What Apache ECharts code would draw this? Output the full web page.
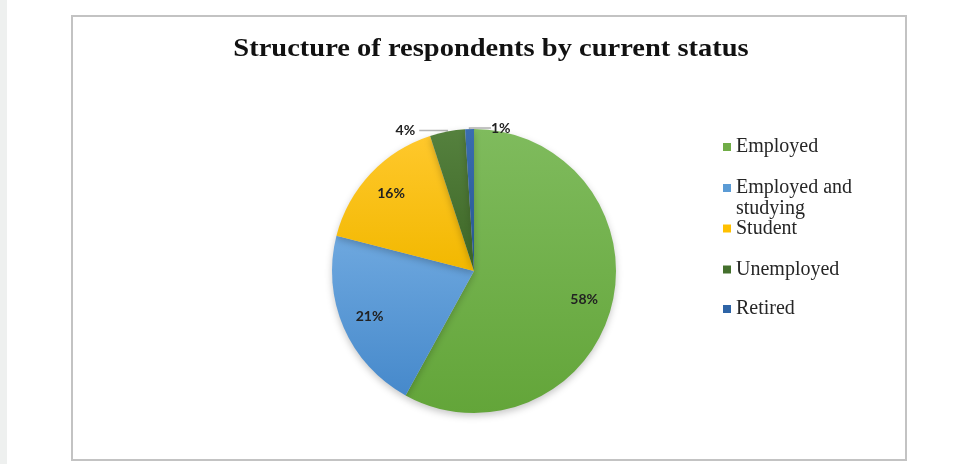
<!DOCTYPE html>
<html>
<head>
<meta charset="utf-8">
<script src="https://cdn.jsdelivr.net/npm/echarts@6/dist/echarts.min.js"></script>
<style>
  html, body { margin: 0; padding: 0; background: #fff; }
  #wrap { position: relative; width: 955px; height: 464px; overflow: hidden; background: #fff; }
  #strip { position: absolute; left: 0; top: 0; width: 7px; height: 464px; background: #eef0ef; }
  #frame { position: absolute; left: 71px; top: 15px; width: 832px; height: 442px; border: 2px solid #c3c3c3; }
  #chart { position: absolute; left: 0; top: 0; width: 955px; height: 464px; }
</style>
</head>
<body>
<div id="wrap">
  <div id="strip"></div>
  <div id="frame"></div>
  <div id="chart"></div>
</div>
<script>
// Survey data: share of respondents by current status (percent)
const titleText = 'Structure of respondents by current status';
const categories = ['Employed', 'Employed and studying', 'Student', 'Unemployed', 'Retired'];
const shares = [58, 21, 16, 4, 1];
const legendLabels = ['Employed', 'Employed and\nstudying', 'Student', 'Unemployed', 'Retired'];

// Slice colours (flat for legend, top/bottom for the shaded fill)
const flatColors = ['#70ad47', '#5b9bd5', '#ffc000', '#44702d', '#2e64a6'];
const topColors = ['#7fbb5d', '#6ea8df', '#ffc82c', '#55813e', '#3a6db0'];
const bottomColors = ['#63a539', '#4689cb', '#f2b800', '#3d6626', '#27578f'];

// Big slices carry their label inside, small ones outside with a leader line
const labelInside = [true, true, true, false, false];

const cx = 474, cy = 271, R = 142;
const labelFont = { fontFamily: 'Lato', fontWeight: 'bold', fontSize: 14, color: '#222' };

function shade(i) {
  return {
    type: 'linear', x: 0, y: 0, x2: 0, y2: 1,
    colorStops: [{ offset: 0, color: topColors[i] }, { offset: 1, color: bottomColors[i] }]
  };
}

// legend rows: vertical centre of each icon
const legendCenters = [147, 188, 228.5, 269.5, 309];
const legendLine = 21;

const legends = categories.map((name, i) => {
  const lines = legendLabels[i].split('\n');
  // wrapped names keep their first line level with the icon: a blank
  // leading row for every extra row keeps the block centred on the icon
  const pad = lines.length - 1;
  const shown = '\u00a0\n'.repeat(pad) + legendLabels[i];
  const rows = lines.length + pad;
  return {
    orient: 'vertical',
    left: 723,
    top: legendCenters[i] - legendLine * rows / 2,
    padding: 0,
    itemGap: 0,
    itemWidth: 8,
    itemHeight: 8,
    icon: 'rect',
    selectedMode: false,
    data: [{ name: name, itemStyle: { color: flatColors[i] } }],
    formatter: () => shown,
    textStyle: {
      fontFamily: 'Liberation Serif',
      fontSize: 20,
      color: '#262626',
      lineHeight: legendLine
    }
  };
});

const chart = echarts.init(document.getElementById('chart'), null, { renderer: 'canvas' });

chart.setOption({
  animation: false,
  backgroundColor: 'transparent',
  graphic: [{
    type: 'text',
    x: 491,
    y: 50,
    scaleX: 1.14,
    silent: true,
    style: {
      text: titleText,
      fontFamily: 'Liberation Serif',
      fontWeight: 'bold',
      fontSize: 25,
      fill: '#111',
      textAlign: 'center',
      textVerticalAlign: 'middle'
    }
  }],
  legend: legends,
  series: [
    {
      type: 'pie',
      name: 'status',
      center: [cx, cy],
      radius: R,
      startAngle: 90,
      clockwise: true,
      avoidLabelOverlap: false,
      itemStyle: { shadowBlur: 7, shadowColor: 'rgba(0,0,0,0.22)', shadowOffsetY: 3 },
      emphasis: { disabled: true },
      label: Object.assign({ position: 'outside', formatter: '{c}%', distanceToLabelLine: 4 }, labelFont),
      labelLine: { length: 1, length2: 28, lineStyle: { color: '#b4b4b4', width: 1.5 } },
      labelLayout: function (p) {
        // the last slice sits just left of 12 o'clock; set its label to the right side
        if (p.dataIndex === categories.length - 1) {
          return {
            x: cx + 17,
            y: p.labelRect.y + p.labelRect.height / 2,
            align: 'left',
            verticalAlign: 'middle'
          };
        }
      },
      data: categories.map((name, i) => ({
        name: name,
        value: shares[i],
        itemStyle: { color: shade(i) },
        label: { show: !labelInside[i] },
        labelLine: { show: !labelInside[i] }
      }))
    },
    {
      // transparent ring that carries the inner labels at ~0.78 of the radius
      type: 'pie',
      name: 'labels',
      center: [cx, cy],
      radius: [R * 0.56, R],
      startAngle: 90,
      clockwise: true,
      silent: true,
      legendHoverLink: false,
      emphasis: { disabled: true },
      itemStyle: { color: 'rgba(0,0,0,0)' },
      label: Object.assign({ position: 'inside', formatter: '{c}%' }, labelFont),
      labelLine: { show: false },
      data: categories.map((name, i) => ({
        name: name,
        value: shares[i],
        label: { show: labelInside[i] }
      }))
    }
  ]
});
</script>
</body>
</html>
